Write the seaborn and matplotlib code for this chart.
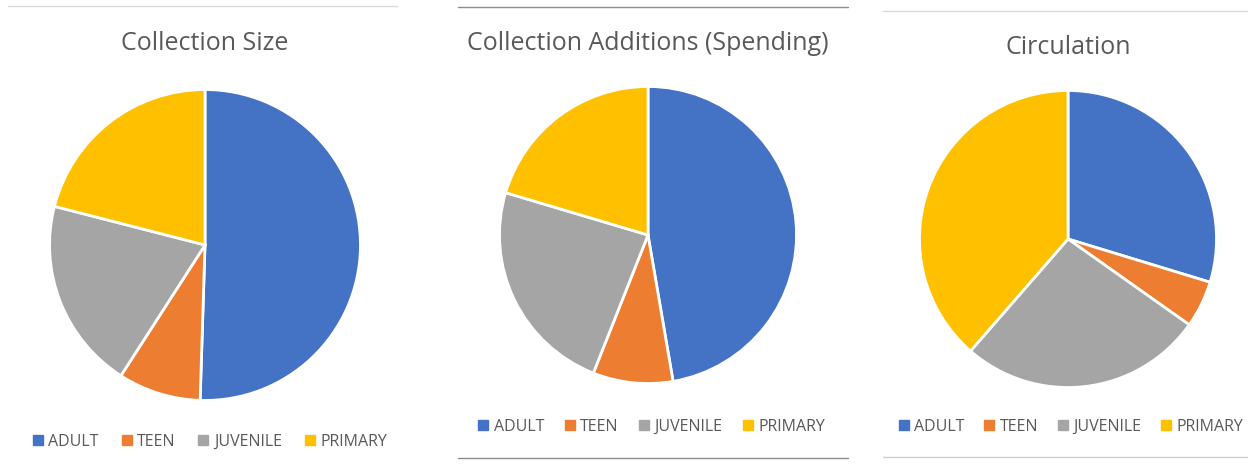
import matplotlib
matplotlib.use("Agg")
import matplotlib.pyplot as plt
from matplotlib.lines import Line2D
import seaborn as sns

sns.set_theme(style="white")
plt.rcParams['font.family'] = ['Open Sans', 'DejaVu Sans']

categories = ["ADULT", "TEEN", "JUVENILE", "PRIMARY"]
colors = ["#4472C4", "#ED7D31", "#A5A5A5", "#FFC000"]
titles = ["Collection Size", "Collection Additions (Spending)", "Circulation"]
collection_size = [50.5, 8.6, 19.9, 21.0]
collection_additions = [47.3, 8.7, 23.6, 20.4]
circulation = [29.7, 5.1, 26.6, 38.6]
series = [collection_size, collection_additions, circulation]

W, H = 1248, 468
fig = plt.figure(figsize=(W / 100, H / 100), dpi=100)

# (center x, center y, radius, title y, legend center x, legend y, legend col spacing)
layout = [
    (205, 245, 157, 44, 210, 442, 1.45),
    (648, 235, 150, 44, 652, 427, 1.3),
    (1068, 239, 150, 48, 1071, 427, 1.25),
]

for vals, title, (cx, cy, r, ty, lx, ly, cs) in zip(series, titles, layout):
    ax = fig.add_axes([(cx - r) / W, (H - cy - r) / H, 2 * r / W, 2 * r / H])
    wedges, _ = ax.pie(vals, colors=colors, startangle=90, counterclock=False,
                       radius=1, wedgeprops=dict(edgecolor="white", linewidth=2))
    ax.set_xlim(-1.01, 1.01)
    ax.set_ylim(-1.01, 1.01)
    ax.axis("off")
    fig.text(cx / W, 1 - ty / H, title, ha="center", va="center",
             fontsize=18, color="#595959")
    handles = [Line2D([0], [0], marker="s", linestyle="none", markersize=6.5,
                      markerfacecolor=c, markeredgecolor=c) for c in colors]
    fig.legend(handles, categories, loc="center", bbox_to_anchor=(lx / W, 1 - ly / H),
               ncol=4, frameon=False, fontsize=11.5, labelcolor="#595959",
               handlelength=0.6, handletextpad=0.35, columnspacing=cs)

def hline(x0, x1, y, color):
    fig.add_artist(Line2D([x0 / W, x1 / W], [1 - y / H, 1 - y / H],
                          transform=fig.transFigure, color=color, linewidth=1))

hline(8, 397, 6, "#D9D9D9")
hline(458, 848, 7, "#8C8C8C")
hline(458, 848, 458, "#8C8C8C")
hline(883, 1248, 11, "#D9D9D9")
hline(883, 1248, 457, "#D0D0D0")

fig.savefig("out.png", dpi=100)
